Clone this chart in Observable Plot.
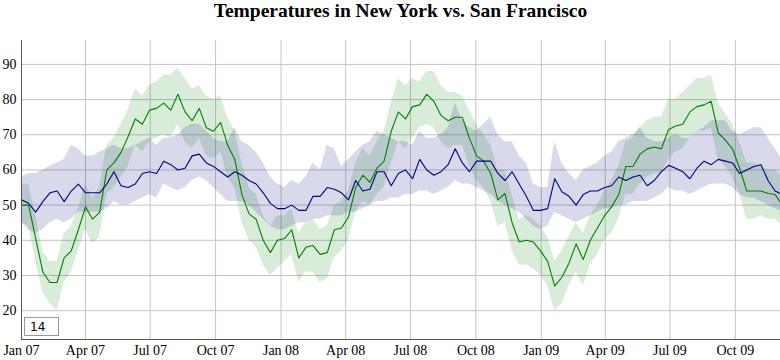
<!DOCTYPE html>
<html>
<head>
<meta charset="utf-8">
<script src="https://cdn.jsdelivr.net/npm/d3@7"></script>
<script src="https://cdn.jsdelivr.net/npm/@observablehq/plot@0.6"></script>
<style>
  html, body { margin: 0; padding: 0; background: #fff; }
  #wrap { position: relative; width: 780px; height: 360px; }
  #title { position: absolute; left: 21px; top: 0; width: 759px; height: 30px; line-height: 24px;
           text-align: center; font: bold 19.5px "Liberation Serif", "Times New Roman", serif; color: #000; }
  #chart { position: absolute; left: 0; top: 30px; }
  #roll { position: absolute; left: 24px; top: 317px; width: 35px; height: 19px; box-sizing: border-box;
          border: 1px solid #999; font: 12px "DejaVu Sans", sans-serif; padding: 1px 5px; background: #fff; color: #000; }
</style>
</head>
<body>
<div id="wrap">
  <div id="title">Temperatures in New York vs. San Francisco</div>
  <div id="chart"></div>
  <input id="roll" type="text" value="14">
</div>
<script>
// Sample spacing: one reading every 10 days starting 2007-01-01
const startDate = "2007-01-01";
const stepDays = 10;
const spanDays = 1067.5;

// New York (green)
const nyMid = [50,50,40.5,31,28,28,35,37,43,49.5,46,48,60,62,65,69.5,74.5,73,77,
  77.5,79,77,81.5,76.5,74,77.5,72,71,73.5,67,63,53,47.5,46,40,36.5,40,
  40.5,43,35,38,38.5,36,36.5,43,43.5,46.7,55,58.5,56.5,60.5,62.5,71,76.5,74.5,78,
  78.5,81.5,79.5,75.5,74,75,75,69,64,62.5,59,51.5,53.3,45,39.5,40,39.5,37,
  34,27,29.5,33.5,39,34.5,40,43.5,47,49.5,53,61,61,64.5,66,66.5,66,71.5,
  72.5,73,76.5,78,78.5,79.5,70.5,68.5,66,60.5,54,54,54,53.3,53,50];
const nyLo = [45,44,34,25,22,20,28,31,37,43,39,41,53,55,58,61,67,65,68,
  69,70,69,73,68,66,69,64,63,65,58,55,45,40,38,33,30,32,
  34,36,28,31,31,28,29,35,37,40,48,51,50,53,55,62,68,66,69,
  72,73,72,68,66,67,67,61,57,55,51,44,45,37,33,33,32,30,
  27,20,22,27,31,27,33,36,40,42,46,53,53,56,58,59,59,63,
  65,66,69,71,71,72,63,61,58,53,46,46,47,46,46,44];
const nyHi = [56,56,47,37,34,34,42,44,49,56,52,55,67,69,73,77,83,81,84,
  85,87,87,89,86,83,84,81,80,81,75,71,62,55,53,47,44,47,
  47,49,42,45,46,43,44,50,51,54,62,66,64,68,71,79,86,84,86,
  85,88,88,84,82,82,81,77,73,70,67,60,60,53,46,47,46,44,
  41,34,37,41,45,42,47,50,54,57,61,68,69,72,74,75,75,80,
  80,82,84,86,86,87,79,76,73,68,62,62,61,60,60,58];

// San Francisco (blue)
const sfMid = [51.5,50.5,48,51,53.5,54,51,54,56,53.5,53.5,53.5,56,59.5,55.5,55,56,59,59.5,
  59,62.5,61.5,60,60.5,64,64.5,62,61,59.5,58,59.5,58.5,57,56,53.5,50.5,49,
  49,50,48.5,48.5,52.5,52.5,55,54.5,53.5,51.5,57,54,54.5,59.5,59.5,55.5,59,60,57.5,
  63,60,58.5,59.5,61.5,66,62,59.5,62.5,62.5,62.5,59,57,59.5,56,52.5,48.5,48.5,
  49,57.5,53.8,52.5,50,53,54,54,55,55.5,58,57,58,58.5,55.5,57,59.5,61.3,
  60.5,59.5,57.5,60.5,62.5,61.5,63,62.5,62,59,60,61,61.5,57,54,53];
const sfLo = [45,43,42,43,45,46,45,46,48,48,48,48,49,51,50,50,51,52,53,
  52,56,55,54,55,57,58,57,55,53,51,51,51,50,48,46,44,43,
  43,44,45,45,46,46,47,47,47,48,48,49,50,51,51,52,52,53,53,
  54,54,53,54,55,57,56,56,55,54,53,51,50,49,48,46,44,43,
  44,48,47,46,45,46,47,48,49,49,50,50,51,51,51,52,53,55,
  54,54,53,54,55,56,56,56,55,53,52,52,51,50,49,48];
const sfHi = [58,59,59,60,61,62,63,67,66,64,64,65,66,67,66,66,67,68,69,
  67,69,69,70,72,73,73,71,69,68,68,72,68,67,65,62,58,56,
  55,57,56,58,62,60,67,66,61,63,65,67,68,71,70,69,68,68,67,
  71,69,69,70,72,79,74,72,71,73,75,70,68,68,64,62,56,55,
  55,68,62,59,57,60,61,62,64,65,68,69,70,72,69,68,68,69,
  70,69,69,71,72,74,74,74,71,70,71,72,72,69,66,63];

// Axes
const xTickDates = ["2007-01-01","2007-04-01","2007-07-01","2007-10-01","2008-01-01","2008-04-01",
  "2008-07-01","2008-10-01","2009-01-01","2009-04-01","2009-07-01","2009-10-01"];
const xTickLabels = ["Jan 07","Apr 07","Jul 07","Oct 07","Jan 08","Apr 08",
  "Jul 08","Oct 08","Jan 09","Apr 09","Jul 09","Oct 09"];
const yTicks = [20,30,40,50,60,70,80,90];
const yDomain = [11.8, 96.8];

const nyColor = "rgb(0,128,0)";
const sfColor = "rgb(0,0,128)";

const DAY = 864e5;
const t0 = new Date(startDate + "T00:00:00Z").getTime();
const rows = nyMid.map((v, i) => ({
  date: new Date(t0 + i * stepDays * DAY),
  ny: v, nyLo: nyLo[i], nyHi: nyHi[i],
  sf: sfMid[i], sfLo: sfLo[i], sfHi: sfHi[i]
}));
const xTicks = xTickDates.map(s => new Date(s + "T00:00:00Z"));
const labelByTime = new Map(xTicks.map((d, i) => [d.getTime(), xTickLabels[i]]));
const xDomain = [new Date(t0), new Date(t0 + spanDays * DAY)];

const grid = {stroke: "#c4c4c4", strokeOpacity: 1, strokeWidth: 1};

const chart = Plot.plot({
  width: 780,
  height: 330,
  marginTop: 10,
  marginBottom: 21,
  marginLeft: 21,
  marginRight: 0,
  style: {fontFamily: "'Liberation Serif', 'Times New Roman', serif", fontSize: "14px", color: "#000", background: "transparent"},
  x: {type: "utc", domain: xDomain},
  y: {domain: yDomain},
  marks: [
    Plot.gridX(xTicks, grid),
    Plot.gridY(yTicks, grid),
    Plot.areaY(rows, {x: "date", y1: "nyLo", y2: "nyHi", fill: nyColor, fillOpacity: 0.15, curve: "linear", clip: true}),
    Plot.areaY(rows, {x: "date", y1: "sfLo", y2: "sfHi", fill: sfColor, fillOpacity: 0.15, curve: "linear", clip: true}),
    Plot.line(rows, {x: "date", y: "ny", stroke: nyColor, strokeWidth: 1.1, clip: true}),
    Plot.line(rows, {x: "date", y: "sf", stroke: sfColor, strokeWidth: 1.1, clip: true}),
    Plot.ruleX([xDomain[0]], {stroke: "#555"}),
    Plot.ruleY([yDomain[0]], {stroke: "#555"}),
    Plot.axisX({ticks: xTicks, tickSize: 0, tickPadding: 6, tickFormat: d => labelByTime.get(d.getTime()), label: null}),
    Plot.axisY({ticks: yTicks, tickSize: 0, tickPadding: 5, label: null})
  ]
});
document.getElementById("chart").appendChild(chart);
</script>
</body>
</html>
